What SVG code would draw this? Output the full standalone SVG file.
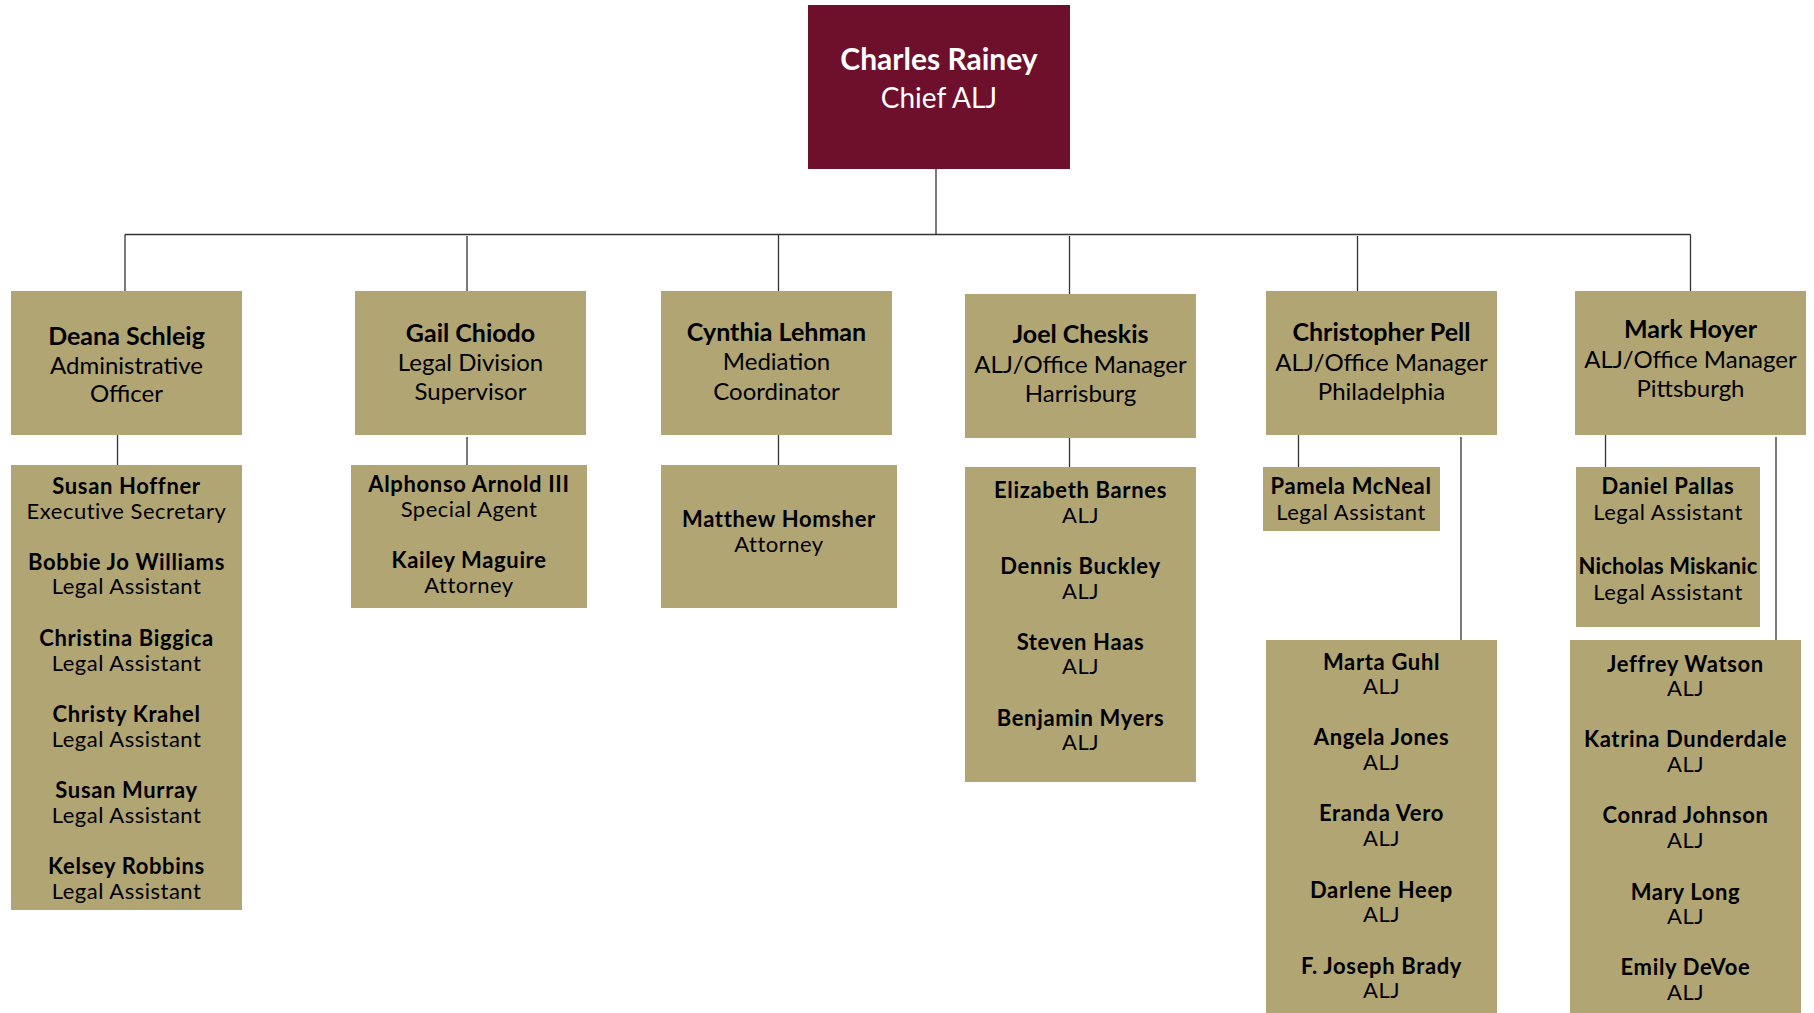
<svg xmlns="http://www.w3.org/2000/svg" width="1814" height="1013" viewBox="0 0 1814 1013">
<style>
.box{fill:#B0A573}
.chief{fill:#6E0F2B}
text{font-family:Lato,"Open Sans","Liberation Sans",sans-serif;text-anchor:middle;fill:#000}
.n{font-weight:bold}
.h{font-size:24px}
.h.n{font-size:25px}
.c{font-size:22px;letter-spacing:0.5px}
.c.n{letter-spacing:0.65px}
.c.tight{letter-spacing:0.1px}
.cw{fill:#fff;font-size:28px}
.cw.n{font-size:30px}
.lines line{stroke:#333;stroke-width:1.3}
</style>
<rect width="1814" height="1013" fill="#fff"/>
<g class="lines" id="connectors">
<line x1="936" y1="169" x2="936" y2="234.5"/>
<line x1="125" y1="234.5" x2="1690.5" y2="234.5"/>
<line x1="125" y1="234.5" x2="125" y2="291"/>
<line x1="467" y1="236" x2="467" y2="291"/>
<line x1="778.5" y1="234.5" x2="778.5" y2="291"/>
<line x1="1069.5" y1="236" x2="1069.5" y2="294"/>
<line x1="1357.5" y1="236" x2="1357.5" y2="291"/>
<line x1="1690.5" y1="234.5" x2="1690.5" y2="291"/>
<line x1="117.5" y1="435" x2="117.5" y2="465"/>
<line x1="467" y1="437" x2="467" y2="465"/>
<line x1="778.5" y1="435" x2="778.5" y2="465"/>
<line x1="1069.5" y1="438" x2="1069.5" y2="467"/>
<line x1="1298.5" y1="435" x2="1298.5" y2="467"/>
<line x1="1461" y1="437" x2="1461" y2="640"/>
<line x1="1605.5" y1="435" x2="1605.5" y2="467"/>
<line x1="1776" y1="437" x2="1776" y2="640"/>
</g>
<g id="chief">
<rect class="chief" x="808" y="5" width="262" height="164"/>
<text class="cw n" x="939" y="70">Charles Rainey</text>
<text class="cw" x="939" y="108">Chief ALJ</text>
</g>
<g id="deana">
<rect class="box" x="11" y="291" width="231" height="144"/>
<text class="h n" x="126.5" y="345">Deana Schleig</text>
<text class="h" x="126.5" y="373.5">Administrative</text>
<text class="h" x="126.5" y="402">Officer</text>
</g>
<g id="gail">
<rect class="box" x="355" y="291" width="231" height="144"/>
<text class="h n" x="470.5" y="342">Gail Chiodo</text>
<text class="h" x="470.5" y="371">Legal Division</text>
<text class="h" x="470.5" y="400">Supervisor</text>
</g>
<g id="cynthia">
<rect class="box" x="661" y="291" width="231" height="144"/>
<text class="h n" x="776.5" y="341">Cynthia Lehman</text>
<text class="h" x="776.5" y="370">Mediation</text>
<text class="h" x="776.5" y="399.5">Coordinator</text>
</g>
<g id="joel">
<rect class="box" x="965" y="294" width="231" height="144"/>
<text class="h n" x="1080.5" y="343">Joel Cheskis</text>
<text class="h" x="1080.5" y="372.5">ALJ/Office Manager</text>
<text class="h" x="1080.5" y="402">Harrisburg</text>
</g>
<g id="christopher">
<rect class="box" x="1266" y="291" width="231" height="144"/>
<text class="h n" x="1381.5" y="341">Christopher Pell</text>
<text class="h" x="1381.5" y="370.5">ALJ/Office Manager</text>
<text class="h" x="1381.5" y="399.5">Philadelphia</text>
</g>
<g id="mark">
<rect class="box" x="1575" y="291" width="231" height="144"/>
<text class="h n" x="1690.5" y="338">Mark Hoyer</text>
<text class="h" x="1690.5" y="367.5">ALJ/Office Manager</text>
<text class="h" x="1690.5" y="396.5">Pittsburgh</text>
</g>
<g id="deana-staff">
<rect class="box" x="11" y="465" width="231" height="445"/>
<text class="c n" x="126.5" y="493.5">Susan Hoffner</text>
<text class="c" x="126.5" y="518.5">Executive Secretary</text>
<text class="c n" x="126.5" y="569.5">Bobbie Jo Williams</text>
<text class="c" x="126.5" y="594">Legal Assistant</text>
<text class="c n" x="126.5" y="645.5">Christina Biggica</text>
<text class="c" x="126.5" y="670.5">Legal Assistant</text>
<text class="c n" x="126.5" y="721.5">Christy Krahel</text>
<text class="c" x="126.5" y="746.5">Legal Assistant</text>
<text class="c n" x="126.5" y="798">Susan Murray</text>
<text class="c" x="126.5" y="822.5">Legal Assistant</text>
<text class="c n" x="126.5" y="874">Kelsey Robbins</text>
<text class="c" x="126.5" y="898.5">Legal Assistant</text>
</g>
<g id="gail-staff">
<rect class="box" x="351" y="465" width="236" height="143"/>
<text class="c n" x="469" y="492">Alphonso Arnold III</text>
<text class="c" x="469" y="516.5">Special Agent</text>
<text class="c n" x="469" y="567.5">Kailey Maguire</text>
<text class="c" x="469" y="592.5">Attorney</text>
</g>
<g id="cynthia-staff">
<rect class="box" x="661" y="465" width="236" height="143"/>
<text class="c n" x="779" y="526.5">Matthew Homsher</text>
<text class="c" x="779" y="551.5">Attorney</text>
</g>
<g id="joel-staff">
<rect class="box" x="965" y="467" width="231" height="315"/>
<text class="c n" x="1080.5" y="497.5">Elizabeth Barnes</text>
<text class="c" x="1080.5" y="522.5">ALJ</text>
<text class="c n" x="1080.5" y="574">Dennis Buckley</text>
<text class="c" x="1080.5" y="598.5">ALJ</text>
<text class="c n" x="1080.5" y="650">Steven Haas</text>
<text class="c" x="1080.5" y="674">ALJ</text>
<text class="c n" x="1080.5" y="726">Benjamin Myers</text>
<text class="c" x="1080.5" y="750">ALJ</text>
</g>
<g id="pamela">
<rect class="box" x="1263" y="467" width="177" height="64"/>
<text class="c n" x="1351" y="493.5">Pamela McNeal</text>
<text class="c" x="1351" y="520">Legal Assistant</text>
</g>
<g id="christopher-alj">
<rect class="box" x="1266" y="640" width="231" height="373"/>
<text class="c n" x="1381.5" y="669.5">Marta Guhl</text>
<text class="c" x="1381.5" y="693.5">ALJ</text>
<text class="c n" x="1381.5" y="745">Angela Jones</text>
<text class="c" x="1381.5" y="769.5">ALJ</text>
<text class="c n" x="1381.5" y="821">Eranda Vero</text>
<text class="c" x="1381.5" y="845.5">ALJ</text>
<text class="c n" x="1381.5" y="897.5">Darlene Heep</text>
<text class="c" x="1381.5" y="921.5">ALJ</text>
<text class="c n" x="1381.5" y="973.5">F. Joseph Brady</text>
<text class="c" x="1381.5" y="997.5">ALJ</text>
</g>
<g id="mark-staff">
<rect class="box" x="1576" y="467" width="184" height="160"/>
<text class="c n" x="1668" y="493.5">Daniel Pallas</text>
<text class="c" x="1668" y="520">Legal Assistant</text>
<text class="c n tight" x="1668" y="573.5">Nicholas Miskanic</text>
<text class="c" x="1668" y="600">Legal Assistant</text>
</g>
<g id="mark-alj">
<rect class="box" x="1570" y="640" width="231" height="373"/>
<text class="c n" x="1685.5" y="672">Jeffrey Watson</text>
<text class="c" x="1685.5" y="696">ALJ</text>
<text class="c n" x="1685.5" y="747">Katrina Dunderdale</text>
<text class="c" x="1685.5" y="771.5">ALJ</text>
<text class="c n" x="1685.5" y="823">Conrad Johnson</text>
<text class="c" x="1685.5" y="848">ALJ</text>
<text class="c n" x="1685.5" y="899.5">Mary Long</text>
<text class="c" x="1685.5" y="924">ALJ</text>
<text class="c n" x="1685.5" y="975">Emily DeVoe</text>
<text class="c" x="1685.5" y="1000">ALJ</text>
</g>
</svg>
